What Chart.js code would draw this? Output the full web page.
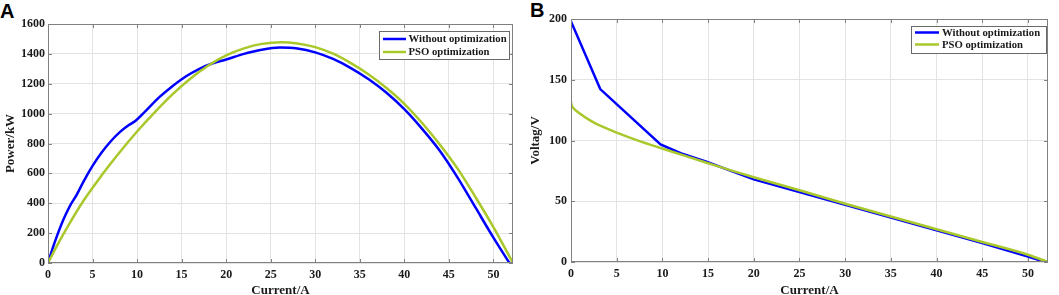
<!DOCTYPE html>
<html>
<head>
<meta charset="utf-8">
<script src="https://cdn.jsdelivr.net/npm/chart.js@4.4.0/dist/chart.umd.min.js"></script>
<style>
  html, body { margin: 0; padding: 0; background: #fff; width: 1059px; height: 295px; overflow: hidden; }
  .wrap { position: absolute; top: 0; }
  .panel { position: absolute; font-family: "Liberation Sans", Arial, sans-serif; font-weight: bold; font-size: 20px; line-height: 20px; color: #000; }
</style>
</head>
<body>
<div class="panel" style="left:0px; top:1px;">A</div>
<div class="panel" style="left:530px; top:0px;">B</div>
<div class="wrap" style="left:0px;"><canvas id="cA" width="530" height="295" style="width:530px;height:295px"></canvas></div>
<div class="wrap" style="left:530px;"><canvas id="cB" width="529" height="295" style="width:529px;height:295px"></canvas></div>
<script>
// ---------- DATA ----------
const seriesNames = ['Without optimization', 'PSO optimization'];

// Panel A: Power (kW) vs Current (A)
const currentA_without = [0, 0.5, 1, 1.5, 2, 2.5, 3.2, 4, 5, 6, 7, 8, 9, 9.8, 11, 12.5, 14, 15.5, 17, 18.5, 20, 22, 24, 26, 28, 30, 32, 34, 36, 38, 40, 42, 44, 46, 48, 50, 51.8];
const powerA_without   = [0, 95, 180, 258, 326, 386, 455, 547, 650, 738, 812, 873, 920, 950, 1020, 1110, 1185, 1250, 1300, 1337, 1362, 1400, 1428, 1442, 1436, 1410, 1366, 1305, 1230, 1140, 1030, 898, 750, 570, 370, 170, 0];
const currentA_pso = [0, 1, 2, 4, 6, 8, 10, 12, 14, 16, 18, 20, 22, 24, 26.2, 28, 30, 32, 34, 36, 38, 40, 42, 44, 46, 48, 50, 52.2];
const powerA_pso   = [0, 115, 222, 418, 585, 738, 880, 1010, 1130, 1235, 1322, 1390, 1437, 1467, 1478, 1470, 1445, 1401, 1338, 1262, 1172, 1066, 937, 792, 630, 440, 240, 0];

// Panel B: Voltage (V) vs Current (A)
const currentB_without = [0, 3.2, 9.8, 12, 14.9, 17.5, 20, 24.6, 30, 35, 40, 45, 50, 51.9];
const voltageB_without = [198, 142.3, 96.7, 89.5, 82.3, 75.0, 68, 58.5, 47, 36.5, 26, 15.5, 4.5, 0];
const currentB_pso = [0, 0.05, 0.25, 1, 2, 3, 5, 7.5, 10, 12.5, 15, 17.5, 20, 25, 30, 35, 40, 45, 50, 52.2];
const voltageB_pso = [132, 129.5, 126.8, 122, 117, 112.8, 106.5, 99.5, 93.4, 87.3, 81.3, 75.4, 69.8, 59, 48, 37.5, 27, 16.5, 6, 0];

// Axis ranges / tick steps
const xMax = 52.2, xStep = 5;
const yA = { min: 0, max: 1600, step: 200 };
const yB = { min: 0, max: 200, step: 50 };

// ---------- STYLE ----------
const BLUE = '#0000ff';
const GREEN = '#a9c82b';
const SERIF = '"Liberation Serif", "Times New Roman", serif';
const TXT = '#1a1a1a';
const GRID = '#e3e3e3';
const FRAME = '#808080';

function pts(xs, ys) { return xs.map((x, i) => ({ x: x, y: ys[i] })); }

const framePlugin = {
  id: 'frameTicks',
  afterDatasetsDraw(chart) {
    const { ctx, chartArea: { left, right, top, bottom }, scales: { x, y } } = chart;
    ctx.save();
    ctx.strokeStyle = FRAME;
    ctx.lineWidth = 1;
    ctx.beginPath();
    ctx.rect(Math.round(left) + 0.5, Math.round(top) + 0.5, Math.round(right - left) - 1, Math.round(bottom - top) - 1);
    const L = 4;
    x.ticks.forEach(t => {
      const px = Math.round(x.getPixelForValue(t.value)) + 0.5;
      ctx.moveTo(px, bottom); ctx.lineTo(px, bottom - L);
      ctx.moveTo(px, top); ctx.lineTo(px, top + L);
    });
    y.ticks.forEach(t => {
      const py = Math.round(y.getPixelForValue(t.value)) + 0.5;
      ctx.moveTo(left, py); ctx.lineTo(left + L, py);
      ctx.moveTo(right, py); ctx.lineTo(right - L, py);
    });
    ctx.stroke();
    ctx.restore();
  }
};

const legendBoxPlugin = {
  id: 'legendBox',
  afterDraw(chart, args, opts) {
    const { ctx } = chart;
    const b = opts.box;
    ctx.save();
    ctx.fillStyle = '#fff';
    ctx.fillRect(b.x, b.y, b.w, b.h);
    ctx.strokeStyle = '#6a6a6a';
    ctx.lineWidth = 1;
    ctx.strokeRect(b.x + 0.5, b.y + 0.5, b.w, b.h);
    ctx.font = 'bold 10.7px ' + SERIF;
    ctx.textBaseline = 'middle';
    ctx.textAlign = 'left';
    [0, 1].forEach(i => {
      const ds = chart.data.datasets[i];
      const ry = b.rowY[i];
      ctx.strokeStyle = ds.borderColor;
      ctx.lineWidth = 2.5;
      ctx.beginPath();
      ctx.moveTo(b.lineX1, ry); ctx.lineTo(b.lineX2, ry);
      ctx.stroke();
      ctx.fillStyle = TXT;
      ctx.fillText(ds.label, b.textX, ry + 0.5);
    });
    ctx.restore();
  }
};

function makeChart(id, cfg) {
  const tickFont = { family: SERIF, weight: 'bold', size: 12 };
  const titleFont = { family: SERIF, weight: 'bold', size: 13 };
  return new Chart(document.getElementById(id), {
    type: 'scatter',
    data: {
      datasets: [
        { label: seriesNames[0], data: cfg.d0, borderColor: BLUE, backgroundColor: BLUE, showLine: true, pointRadius: 0, borderWidth: 2.5, tension: cfg.t0, cubicInterpolationMode: cfg.m0, order: 1 },
        { label: seriesNames[1], data: cfg.d1, borderColor: GREEN, backgroundColor: GREEN, showLine: true, pointRadius: 0, borderWidth: 2.5, cubicInterpolationMode: 'monotone', order: 0 }
      ]
    },
    options: {
      responsive: false,
      animation: false,
      devicePixelRatio: 1,
      layout: { padding: cfg.pad },
      plugins: {
        legend: { display: false },
        tooltip: { enabled: false },
        legendBox: { box: cfg.legend }
      },
      scales: {
        x: {
          type: 'linear', min: 0, max: xMax,
          ticks: { stepSize: xStep, includeBounds: false, padding: 5, font: tickFont, color: TXT, maxRotation: 0, autoSkip: false, callback: v => String(v) },
          grid: { color: GRID, drawTicks: false, lineWidth: 1 },
          border: { display: false },
          title: { display: true, text: 'Current/A', font: titleFont, color: TXT, padding: { top: 0, bottom: -3 } },
          afterFit(s) { s.height = cfg.xh; }
        },
        y: {
          type: 'linear', min: cfg.y.min, max: cfg.y.max,
          ticks: { stepSize: cfg.y.step, padding: cfg.yPad, font: tickFont, color: TXT, autoSkip: false, callback: v => String(v) },
          grid: { color: GRID, drawTicks: false, lineWidth: 1 },
          border: { display: false },
          title: { display: true, text: cfg.yTitle, font: titleFont, color: TXT, padding: { top: cfg.yTitlePad, bottom: 0 } },
          afterFit(s) { s.width = cfg.yw; }
        }
      }
    },
    plugins: [framePlugin, legendBoxPlugin]
  });
}

makeChart('cA', {
  d0: pts(currentA_without, powerA_without),
  d1: pts(currentA_pso, powerA_pso),
  t0: 0.4, m0: 'monotone',
  pad: { top: 24, right: 17, left: 0, bottom: 0 },
  xh: 32, yw: 48, yPad: 3, yTitlePad: 3,
  y: yA, yTitle: 'Power/kW',
  legend: { x: 379, y: 31, w: 130, h: 28, rowY: [39, 52], lineX1: 383, lineX2: 406, textX: 408.5 }
});

makeChart('cB', {
  d0: pts(currentB_without, voltageB_without),
  d1: pts(currentB_pso, voltageB_pso),
  t0: 0, m0: 'default',
  pad: { top: 19, right: 11, left: 0, bottom: 0 },
  xh: 33, yw: 41, yPad: 4, yTitlePad: -2,
  y: yB, yTitle: 'Voltag/V',
  legend: { x: 381, y: 26, w: 135, h: 27, rowY: [32.5, 44.5], lineX1: 385, lineX2: 409, textX: 412 }
});
</script>
</body>
</html>
